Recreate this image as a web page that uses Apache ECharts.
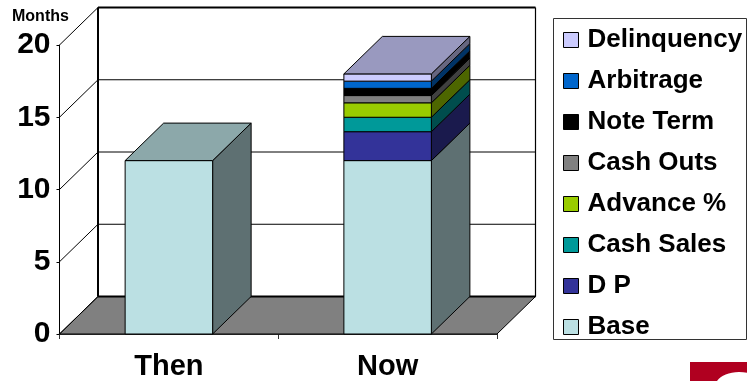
<!DOCTYPE html>
<html>
<head>
<meta charset="utf-8">
<title>Months</title>
<script src="https://cdn.jsdelivr.net/npm/echarts@6/dist/echarts.min.js"></script>
<style>
  html, body { margin: 0; padding: 0; background: #fff; }
  #chart { width: 747px; height: 381px; }
</style>
</head>
<body>
<div id="chart"></div>
<script>
// Stacked months per period, bottom of the stack first
const categories = ['Then', 'Now'];
const yTicks = [0, 5, 10, 15, 20];
const seriesNames = ['Base', 'D P', 'Cash Sales', 'Advance %', 'Cash Outs', 'Note Term', 'Arbitrage', 'Delinquency'];
const base = [12, 12];
const dp = [0, 2];
const cashSales = [0, 1];
const advance = [0, 1];
const cashOuts = [0, 0.5];
const noteTerm = [0, 0.5];
const arbitrage = [0, 0.5];
const delinquency = [0, 0.5];
const seriesValues = [base, dp, cashSales, advance, cashOuts, noteTerm, arbitrage, delinquency];
const seriesColors = ['#BBE0E3', '#333399', '#009999', '#99CC00', '#808080', '#000000', '#0066CC', '#CCCCFF'];

// Depth of the fake 3D box, in pixels
const depthX = 38.5;
const depthY = 37.5;
const font = '"Liberation Sans", Arial, sans-serif';

function shade(hex, k) {
  const n = parseInt(hex.slice(1), 16);
  const c = [(n >> 16) & 255, (n >> 8) & 255, n & 255].map(v => Math.round(v * k));
  return 'rgb(' + c.join(',') + ')';
}

// Floor, back wall and gridlines, one item per tick value
function renderRoom(params, api) {
  const cs = params.coordSys;
  const y = api.coord([0, api.value(0)])[1];
  const x0 = cs.x, x1 = cs.x + cs.width;
  const children = [];
  const value = api.value(0);
  const line = (a, b, c, d, w) => ({
    type: 'line',
    shape: { x1: a, y1: b, x2: c, y2: d },
    style: { stroke: '#000', lineWidth: w }
  });
  if (value === yTicks[0]) {
    children.push({
      type: 'polygon',
      shape: { points: [[x0, y], [x0 + depthX, y - depthY], [x1 + depthX, y - depthY], [x1, y]] },
      style: { fill: '#808080', stroke: '#000', lineWidth: 1 }
    });
  }
  const thick = value === yTicks[0] || value === yTicks[yTicks.length - 1];
  children.push(line(x0, y, x0 + depthX, y - depthY, 1));
  children.push(line(x0 + depthX, y - depthY, x1 + depthX, y - depthY, thick ? 2 : 1));
  if (value === yTicks[yTicks.length - 1]) {
    const bottom = api.coord([0, yTicks[0]])[1] - depthY;
    children.push(line(x0 + depthX, y - depthY, x0 + depthX, bottom, 2));
    children.push(line(x1 + depthX, y - depthY, x1 + depthX, bottom, 1.2));
  }
  return { type: 'group', children };
}

// One stacked block: front, side and, on the top block, the lid
function renderBlock(color) {
  return function (params, api) {
    const center = api.coord([api.value(0), 0])[0];
    const w = api.size([1, 0])[0] * 0.4;
    const yLow = api.coord([0, api.value(1)])[1];
    const yHigh = api.coord([0, api.value(2)])[1];
    const l = center - w / 2, r = center + w / 2;
    const edge = { stroke: '#000', lineWidth: 1, lineJoin: 'round' };
    const children = [
      {
        type: 'polygon',
        shape: { points: [[r, yLow], [r + depthX, yLow - depthY], [r + depthX, yHigh - depthY], [r, yHigh]] },
        style: { fill: shade(color, 0.5), ...edge }
      },
      {
        type: 'polygon',
        shape: { points: [[l, yLow], [r, yLow], [r, yHigh], [l, yHigh]] },
        style: { fill: color, ...edge }
      }
    ];
    if (api.value(3)) {
      children.push({
        type: 'polygon',
        shape: { points: [[l, yHigh], [r, yHigh], [r + depthX, yHigh - depthY], [l + depthX, yHigh - depthY]] },
        style: { fill: shade(color, 0.75), ...edge }
      });
    }
    return { type: 'group', children };
  };
}

// Turn the named value arrays into [category, low, high, isTop] rows
function blockRows(index) {
  const rows = [];
  categories.forEach((_, c) => {
    const v = seriesValues[index][c];
    if (!v) return;
    let low = 0;
    for (let i = 0; i < index; i++) low += seriesValues[i][c];
    let above = 0;
    for (let i = index + 1; i < seriesValues.length; i++) above += seriesValues[i][c];
    rows.push([c, low, low + v, above === 0 ? 1 : 0]);
  });
  return rows;
}

const chart = echarts.init(document.getElementById('chart'), null, { renderer: 'canvas' });
chart.setOption({
  animation: false,
  backgroundColor: '#fff',
  title: {
    text: 'Months',
    left: 12,
    top: 9,
    padding: 0,
    textStyle: { fontFamily: font, fontSize: 16, fontWeight: 'bold', color: '#000' }
  },
  grid: { left: 59.5, top: 45, width: 437.5, height: 290, containLabel: false },
  xAxis: {
    type: 'category',
    data: categories,
    axisLine: { show: true, lineStyle: { color: '#000', width: 1.5 } },
    axisTick: { show: true, length: 5, lineStyle: { color: '#333' } },
    axisLabel: { margin: 18, fontFamily: font, fontSize: 29, fontWeight: 'bold', color: '#000' },
    splitLine: { show: false }
  },
  yAxis: {
    type: 'value',
    min: 0,
    max: 20,
    interval: 5,
    axisLine: { show: true, lineStyle: { color: '#000', width: 1 } },
    axisTick: { show: true, length: 3, lineStyle: { color: '#000' } },
    axisLabel: { margin: 9, padding: [4, 0, 0, 0], fontFamily: font, fontSize: 30, fontWeight: 'bold', color: '#000' },
    splitLine: { show: false }
  },
  legend: {
    orient: 'vertical',
    left: 563,
    top: 27,
    padding: 0,
    itemGap: 15,
    itemWidth: 15,
    itemHeight: 15,
    icon: 'rect',
    selectedMode: false,
    data: seriesNames.slice().reverse(),
    itemStyle: { borderColor: '#000', borderWidth: 1 },
    textStyle: { fontFamily: font, fontSize: 26, fontWeight: 'bold', color: '#000', lineHeight: 20, padding: [0, 0, 0, 4] }
  },
  graphic: [
    // Legend frame
    { type: 'rect', z: 0, silent: true, shape: { x: 553.5, y: 18.5, width: 193, height: 321 }, style: { fill: 'none', stroke: '#333', lineWidth: 1 } },
    // Corner of the logo at the bottom right
    { type: 'rect', z: 1, silent: true, shape: { x: 690, y: 362, width: 57, height: 19 }, style: { fill: '#B00020' } },
    { type: 'ellipse', z: 2, silent: true, shape: { cx: 739, cy: 387, rx: 24, ry: 15 }, style: { fill: '#fff' } }
  ],
  series: [
    {
      type: 'custom',
      name: 'room',
      z: 1,
      silent: true,
      clip: false,
      coordinateSystem: 'cartesian2d',
      renderItem: renderRoom,
      data: yTicks.map(v => [v]),
      encode: { y: 0 }
    },
    ...seriesNames.map((name, i) => ({
      type: 'custom',
      name,
      z: 2 + i,
      clip: false,
      silent: true,
      coordinateSystem: 'cartesian2d',
      renderItem: renderBlock(seriesColors[i]),
      itemStyle: { color: seriesColors[i] },
      data: blockRows(i),
      encode: { x: 0, y: [1, 2] }
    }))
  ]
});
</script>
</body>
</html>
